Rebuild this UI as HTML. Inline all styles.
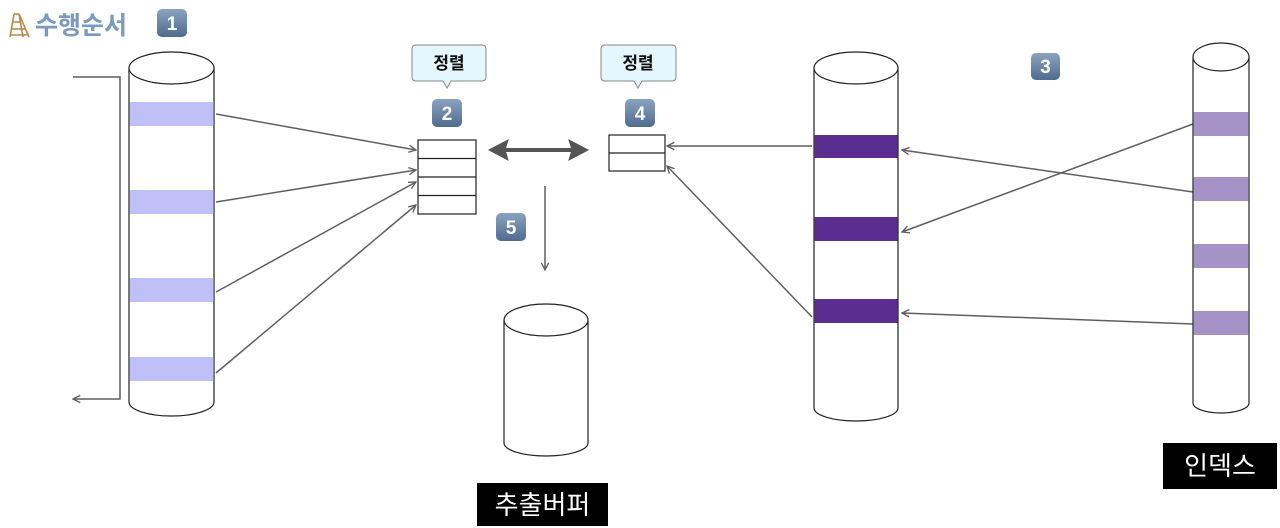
<!DOCTYPE html>
<html><head><meta charset="utf-8"><style>
html,body{margin:0;padding:0;background:#fff;width:1280px;height:528px;overflow:hidden}
svg{display:block}
text{font-family:"Liberation Sans","Noto Sans CJK KR",sans-serif}
</style></head><body>
<svg width="1280" height="528" viewBox="0 0 1280 528" xmlns="http://www.w3.org/2000/svg">
<defs>
<marker id="a" viewBox="0 0 10 10" refX="9" refY="5" markerWidth="9" markerHeight="9" orient="auto-start-reverse" markerUnits="userSpaceOnUse">
<path d="M1,1 L9,5 L1,9" fill="none" stroke="#5f5f5f" stroke-width="1.5"/></marker>
<linearGradient id="bg" x1="0" y1="0" x2="0" y2="1"><stop offset="0" stop-color="#8aa3c0"/><stop offset="1" stop-color="#4f6b8e"/></linearGradient>
</defs>

<!-- title -->
<g stroke="#b8894a" stroke-width="1.6" fill="none">
<line x1="14" y1="14" x2="10" y2="37"/><line x1="19" y1="14" x2="23" y2="37"/>
<line x1="19" y1="14" x2="29" y2="37"/><line x1="14" y1="14" x2="19" y2="14"/>
<line x1="12" y1="22" x2="21" y2="22"/><line x1="11" y1="29" x2="25" y2="29"/><line x1="10" y1="35" x2="27" y2="35"/>
</g>
<text x="35" y="34" font-size="25" font-weight="bold" fill="#7a9ac0">수행순서</text>

<!-- badges -->
<g font-size="19" font-weight="bold" fill="#fff" text-anchor="middle">
<rect x="157" y="9" width="30" height="28" rx="5" fill="url(#bg)"/><text x="172" y="30">1</text>
<rect x="432" y="99" width="30" height="28" rx="5" fill="url(#bg)"/><text x="447" y="120">2</text>
<rect x="1031" y="53" width="29" height="27" rx="5" fill="url(#bg)"/><text x="1045.5" y="73">3</text>
<rect x="625" y="99" width="30" height="28" rx="5" fill="url(#bg)"/><text x="640" y="120">4</text>
<rect x="496" y="213" width="30" height="28" rx="5" fill="url(#bg)"/><text x="511" y="234">5</text>
</g>

<!-- bubbles -->
<g stroke="#888" stroke-width="1" fill="#e3f7fc">
<path d="M416,45 H482 Q486,45 486,49 V77 Q486,81 482,81 H451 L447,88 L443,81 H416 Q412,81 412,77 V49 Q412,45 416,45Z"/>
<path d="M605,45 H672 Q676,45 676,49 V77 Q676,81 672,81 H642 L638,88 L634,81 H605 Q601,81 601,77 V49 Q601,45 605,45Z"/>
</g>
<g font-size="17" font-weight="bold" text-anchor="middle" fill="#111">
<text x="449" y="69">정렬</text><text x="638" y="69">정렬</text>
</g>

<!-- left cylinder -->
<g stroke="#222" stroke-width="1.2" fill="#fff">
<path d="M129,68 V402 A42.5,14 0 0 0 214,402 V68"/>
<rect x="129.6" y="102" width="84" height="24" fill="#c0c0f8" stroke="none"/>
<rect x="129.6" y="190" width="84" height="24" fill="#c0c0f8" stroke="none"/>
<rect x="129.6" y="278" width="84" height="24" fill="#c0c0f8" stroke="none"/>
<rect x="129.6" y="357" width="84" height="24" fill="#c0c0f8" stroke="none"/>
<ellipse cx="171.5" cy="68" rx="42.5" ry="16"/>
</g>

<!-- bracket -->
<path d="M73,77 H120 V399 H73" fill="none" stroke="#5f5f5f" stroke-width="1.5" marker-end="url(#a)"/>

<!-- box 2 -->
<g stroke="#222" stroke-width="1.2" fill="#fff">
<rect x="418" y="140" width="58" height="74"/>
<line x1="418" y1="158.5" x2="476" y2="158.5"/><line x1="418" y1="177" x2="476" y2="177"/><line x1="418" y1="195.5" x2="476" y2="195.5"/>
<rect x="609" y="135" width="56" height="36"/>
<line x1="609" y1="153" x2="665" y2="153"/>
</g>

<g stroke="#5f5f5f" stroke-width="1.5" fill="none" marker-end="url(#a)">
<line x1="216" y1="114" x2="416" y2="150"/>
<line x1="216" y1="202" x2="416" y2="170"/>
<line x1="216" y1="292" x2="416" y2="182"/>
<line x1="216" y1="373" x2="416" y2="205"/>
<line x1="812" y1="146" x2="667" y2="146"/>
<line x1="812" y1="317" x2="667" y2="166"/>
<line x1="1193" y1="124" x2="902" y2="232"/>
<line x1="1193" y1="192" x2="902" y2="150"/>
<line x1="1193" y1="324" x2="902" y2="313"/>
<line x1="545" y1="186" x2="545" y2="270"/>
</g>

<!-- double arrow -->
<g fill="#555" stroke="#555">
<line x1="500" y1="150" x2="578" y2="150" stroke-width="4"/>
<path d="M489,150 L508,140 L505,150 L508,160Z"/>
<path d="M588,150 L569,140 L572,150 L569,160Z"/>
</g>

<!-- mid cylinder -->
<g stroke="#222" stroke-width="1.2" fill="#fff">
<path d="M504,320 V443 A42,13 0 0 0 588,443 V320"/>
<ellipse cx="546" cy="320" rx="42" ry="16"/>
</g>

<!-- right cylinder -->
<g stroke="#222" stroke-width="1.2" fill="#fff">
<path d="M814,68 V408 A42,13 0 0 0 898,408 V68"/>
<rect x="814.6" y="135" width="83" height="23" fill="#5b2d91" stroke="none"/>
<rect x="814.6" y="217" width="83" height="24" fill="#5b2d91" stroke="none"/>
<rect x="814.6" y="299" width="83" height="24" fill="#5b2d91" stroke="none"/>
<ellipse cx="856" cy="68" rx="42" ry="16"/>
</g>

<!-- index cylinder -->
<g stroke="#222" stroke-width="1.2" fill="#fff">
<path d="M1193,57 V403 A28,10 0 0 0 1249,403 V57"/>
<rect x="1193.6" y="112" width="55" height="24" fill="#a593c8" stroke="none"/>
<rect x="1193.6" y="177" width="55" height="24" fill="#a593c8" stroke="none"/>
<rect x="1193.6" y="244" width="55" height="24" fill="#a593c8" stroke="none"/>
<rect x="1193.6" y="311" width="55" height="24" fill="#a593c8" stroke="none"/>
<ellipse cx="1221" cy="57" rx="28" ry="14"/>
</g>

<!-- labels -->
<rect x="477" y="483" width="131" height="43" fill="#000"/>
<text x="542.5" y="514" font-size="26" fill="#fff" text-anchor="middle">추출버퍼</text>
<rect x="1163" y="443" width="114" height="46" fill="#000"/>
<text x="1220" y="475" font-size="26" fill="#fff" text-anchor="middle">인덱스</text>
</svg>
</body></html>
